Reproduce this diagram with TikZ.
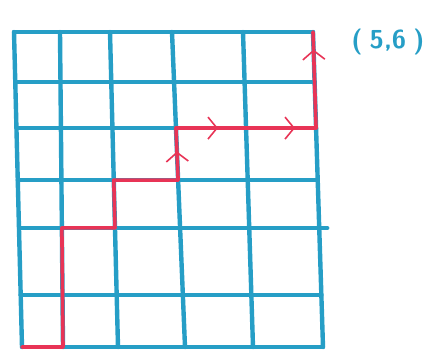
\documentclass[tikz,border=0pt]{standalone}
\usetikzlibrary{calc,arrows.meta,decorations.markings}
\definecolor{gridblue}{RGB}{38,158,198}
\definecolor{pathred}{RGB}{232,52,86}
\tikzset{
  gridline/.style={draw=gridblue,line width=4.4pt,line cap=round,line join=round},
  redpath/.style={draw=pathred,line width=3.6pt,line cap=round,line join=round},
  midarrow/.style={postaction={decorate},decoration={markings,
      mark=at position #1 with {\arrow{Straight Barb[length=9pt,width=22pt,line width=1.6pt]}}}},
  labeltext/.style={text=gridblue,font=\sffamily\bfseries\fontsize{26}{28}\selectfont}
}
\begin{document}
\begin{tikzpicture}[x=1pt,y=-1pt]
\useasboundingbox (0,0) rectangle (442,360);
% top and bottom ends of the vertical lines
\foreach \i/\xt/\xb in {0/14/22,1/60/63,2/110/118,3/172/185,4/243/253,5/313/323}{
  \coordinate (T\i) at (\xt,32);
  \coordinate (B\i) at (\xb,347);
}
% grid intersections: row j=0 bottom ... j=6 top
\foreach \i in {0,...,5}{
  \foreach \j/\f in {0/1,1/0.835,2/0.622,3/0.470,4/0.305,5/0.159,6/0}{
    \coordinate (p\i\j) at ($(T\i)!\f!(B\i)$);
  }
}
% vertical lines
\foreach \i in {0,...,5}{ \draw[gridline] (T\i) -- (B\i); }
% horizontal lines
\foreach \j in {0,...,6}{
  \draw[gridline] (p0\j) -- (p1\j) -- (p2\j) -- (p3\j) -- (p4\j) -- (p5\j);
}
\coordinate (ext) at ($(p52)+(8,0)$);
\draw[gridline] (p52) -- (ext);
% red path
\draw[redpath] (p00) -- (p10) -- (p12) -- (p22) -- (p23) -- (p33);
\draw[redpath,midarrow=0.55] (p33) -- (p34);
\draw[redpath,midarrow=0.6] (p34) -- (p44);
\draw[redpath,midarrow=0.7] (p44) -- (p54);
\draw[redpath] (p54) -- (p55);
\draw[redpath,midarrow=0.65] (p55) -- (p56);
% label
\node[labeltext] (lbl) at (388,42) {(\;5,6\;)};
\end{tikzpicture}
\end{document}
